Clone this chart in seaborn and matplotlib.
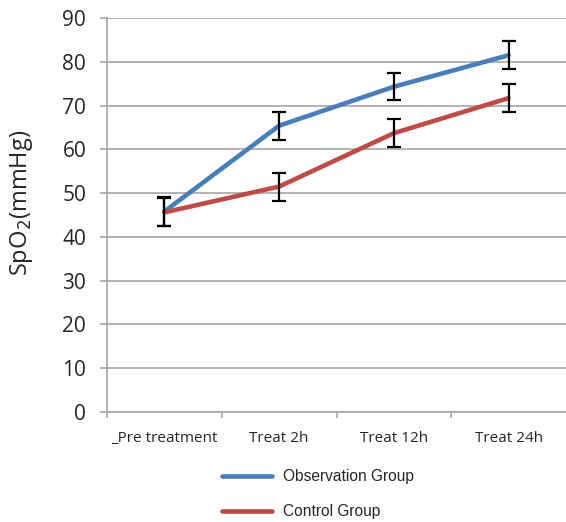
import numpy as np
import pandas as pd
import matplotlib
matplotlib.use("Agg")
import matplotlib.pyplot as plt
from matplotlib.lines import Line2D
import seaborn as sns

categories = ["_Pre treatment", "Treat 2h", "Treat 12h", "Treat 24h"]
groups = ["Observation Group", "Control Group"]
observation = [45.8, 65.4, 74.3, 81.5]
control = [45.6, 51.5, 63.7, 71.7]
observation_err = [3.2, 3.2, 3.1, 3.2]
control_err = [3.2, 3.2, 3.2, 3.2]
yticks = list(range(0, 91, 10))
colors = ["#4A7EBB", "#BE4B48"]

sns.set_theme(style="white")
plt.rcParams["font.family"] = ["Open Sans", "DejaVu Sans"]

df = pd.DataFrame({
    "time": list(range(len(categories))) * 2,
    "value": observation + control,
    "group": [groups[0]] * len(categories) + [groups[1]] * len(categories),
})

fig = plt.figure(figsize=(5.66, 5.22), dpi=100)
ax = fig.add_axes([107 / 566, 1 - 412 / 522, 1 - 107 / 566, 394 / 522])

ax.set_axisbelow(True)
ax.yaxis.grid(True, color="#A6A6A6", linewidth=1.2)
ax.xaxis.grid(False)

sns.lineplot(data=df, x="time", y="value", hue="group", hue_order=groups,
             palette=colors, linewidth=3.3, ax=ax, legend=False, sort=False,
             zorder=3)
for vals, errs in [(observation, observation_err), (control, control_err)]:
    ax.errorbar(range(len(categories)), vals, yerr=errs, fmt="none",
                ecolor="black", elinewidth=1.6, capsize=4.7, capthick=1.6,
                zorder=4)

ax.set_xlim(-0.5, 3.5)
ax.set_ylim(0, 90)
ax.set_yticks(yticks)
ax.set_xticks(range(len(categories)))
ax.set_xticklabels(categories)
ax.set_xticks([-0.5, 0.5, 1.5, 2.5], minor=True)
ax.tick_params(axis="x", which="major", length=0, pad=14, labelsize=11,
               labelcolor="#262626")
ax.tick_params(axis="x", which="minor", length=4, width=1.2, color="#A6A6A6",
               direction="out", bottom=True)
ax.tick_params(axis="y", length=5, width=1.2, color="#A6A6A6", direction="out",
               left=True, pad=10, labelsize=15, labelcolor="#262626")

for s in ["top", "right"]:
    ax.spines[s].set_visible(False)
for s in ["left", "bottom"]:
    ax.spines[s].set_color("#A6A6A6")
    ax.spines[s].set_linewidth(1.2)

ax.set_xlabel("")
ax.set_ylabel("SpO$_2$(mmHg)", fontsize=17, color="#262626")
ax.yaxis.set_label_coords(-0.157, 0.53)

handles = [Line2D([0], [0], color=c, linewidth=3.3) for c in colors]
fig.legend(handles, groups, loc="center", bbox_to_anchor=(0.562, 0.053),
           frameon=False, ncol=1, handlelength=3.2, handletextpad=0.7,
           labelspacing=1.3,
           prop={"family": ["Liberation Sans", "DejaVu Sans"], "size": 11.2})

fig.savefig("out.png", dpi=100)
